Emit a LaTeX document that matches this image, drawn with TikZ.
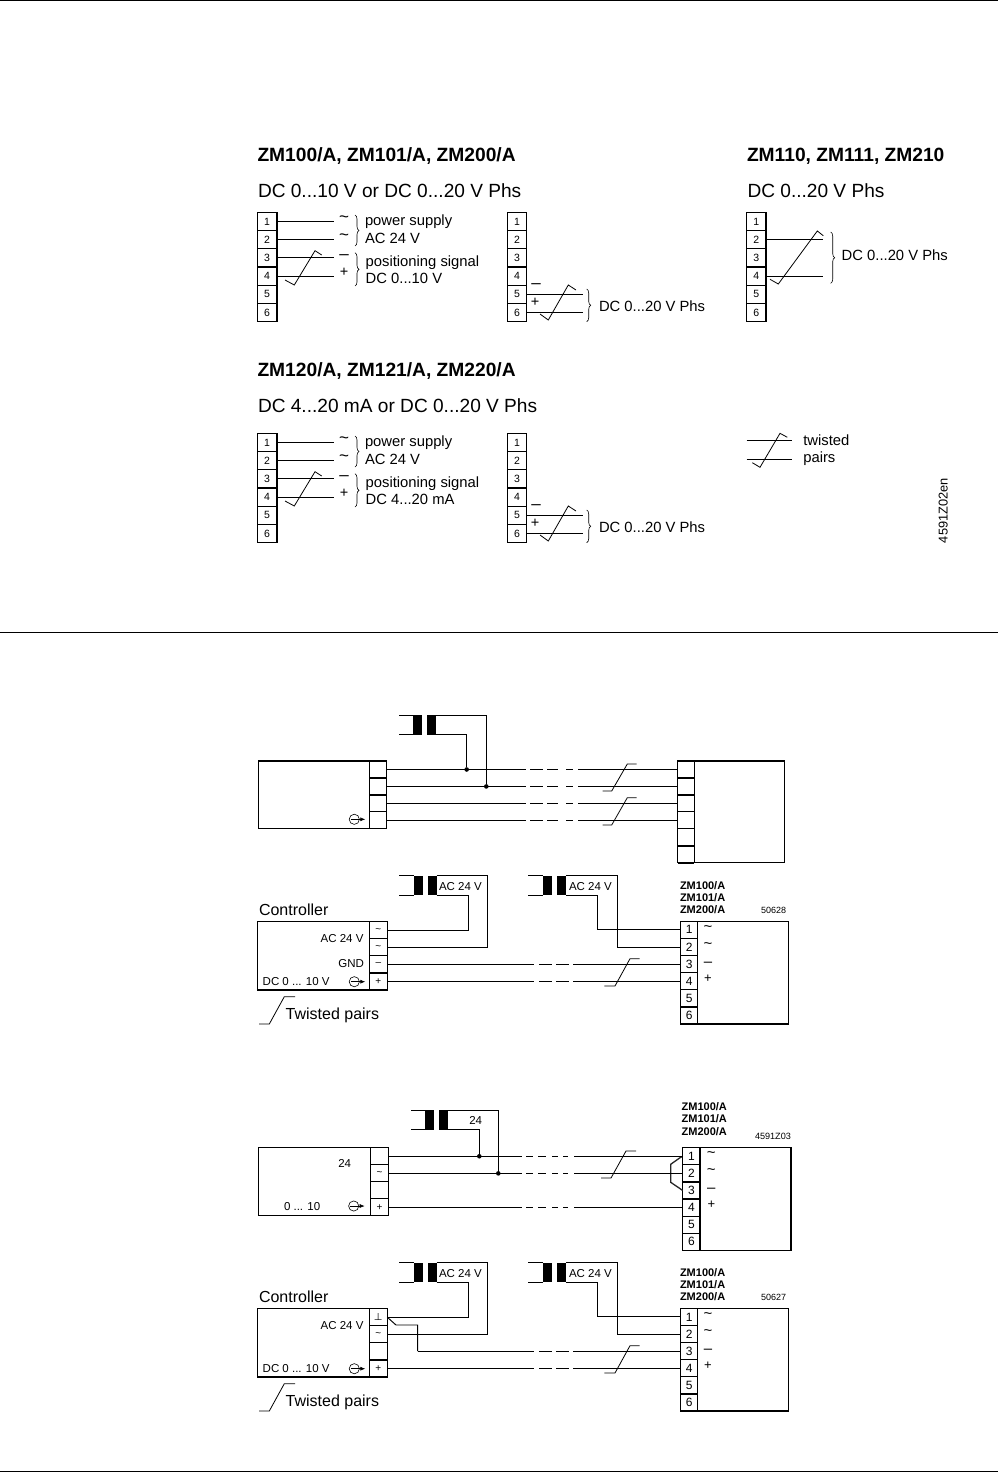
\documentclass[tikz,border=0pt]{standalone}
\usepackage{fontspec}
\setmainfont{Liberation Sans}
\newfontfamily\djv{DejaVu Sans}
\usetikzlibrary{arrows.meta,decorations.pathreplacing,calc}
\newcommand\tld{\textasciitilde}
\newcommand\ctld{\raisebox{-1.2pt}{\textasciitilde}}
\newcommand\mns{–}
\tikzset{
  wire/.style={line width=0.95pt,black},
  twl/.style={line width=0.8pt,black},
  rulel/.style={line width=1.3pt,black},
  cellb/.style={draw=black,line width=1.2pt,rectangle,inner sep=0pt,outer sep=0pt,fill=white},
  boxb/.style={draw=black,line width=1.1pt,rectangle,inner sep=0pt,outer sep=0pt,anchor=north west},
  thk/.style={line width=1.7pt,black},
  barb/.style={fill=black,draw=none,rectangle,inner sep=0pt,outer sep=0pt,minimum width=9pt,minimum height=19.3pt,anchor=north west},
  dotn/.style={fill=black,circle,inner sep=0pt,minimum size=4.6pt},
  brc/.style={line width=0.6pt,black,decorate,decoration={brace,amplitude=4pt}},
  txt/.style={inner sep=0pt,outer sep=0pt,text=black},
  sigl/.style={line width=0.6pt,black},
}
% name, x, ytop, w, h, fontsize, list
\newcommand\cellcol[7]{%
  \foreach \i/\lab in {#7}{%
    \node[cellb,minimum width=#4,minimum height=#5,font=\fontsize{#6}{#6}\selectfont] (#1\i) at ({#2+#4/2},{#3+(\i-0.5)*#5}) {\lab};
  }}
% name, x, y, size, anchor, text
\newcommand\tx[6]{\node[txt,anchor=#5,font=\fontsize{#4}{#4}\selectfont] (#1) at (#2,#3) {#6};}
\newcommand\bx[6]{\node[txt,anchor=#5,font=\bfseries\fontsize{#4}{#4}\selectfont] (#1) at (#2,#3) {#6};}
% symbols placed by the centre of their glyph: name, x, y centre, size
\newcommand\stld[4]{\tx{#1}{#2}{#3+0.30*#4}{#4}{base}{\tld}}
\newcommand\smns[4]{\tx{#1}{#2}{#3+0.27*#4}{#4}{base}{\mns}}
\newcommand\spls[4]{\tx{#1}{#2}{#3+0.33*#4}{#4}{base}{+}}
\newcommand\sigsym[2]{\draw[sigl] (#1,#2) circle (5.1);\draw[sigl,-{Latex[length=5pt,width=4pt]}] (#1-3.5,#2) -- (#1+11,#2);}
\newcommand\twist[4]{\draw[twl] (#1) -- (#2) -- (#3) -- (#4);}
% start, end, first stop, dash pairs, last start
\newcommand\brokenwire[5]{%
  \draw[wire] (#1 |- #2) -- (#3,0 |- #2);
  \foreach \p/\q in {#4}{\draw[wire] (\p,0 |- #2) -- (\q,0 |- #2);}
  \draw[wire] (#5,0 |- #2) -- (#2);}
% name, x of first bar, ytop, stub length
\newcommand\trafo[4]{%
  \node[barb] (#1a) at (#2,#3) {};
  \node[barb] (#1b) at (#2+14,#3) {};
  \coordinate (#1sa) at ($(#1a.north west)+(-#4,0)$);
  \coordinate (#1sb) at ($(#1a.south west)+(-#4,0)$);
  \draw[wire] (#1sa) -- (#1a.north west);
  \draw[wire] (#1sb) -- (#1a.south west);}
% top section block: prefix, yoffset, signal text
\newcommand\powerblock[3]{%
  \cellcol{#1}{257.3}{212.3+#2}{19.7}{18.2}{10.5}{1/1,2/2,3/3,4/4,5/5,6/6}
  \foreach \n in {1,2,3,4}{\coordinate (#1e\n) at (334.3,0 |- #1\n.east); \draw[wire] (#1\n.east) -- (#1e\n);}
  \twist{285,280+#2}{294.3,285+#2}{315,250.7+#2}{321.7,255+#2}
  \stld{#1sa}{344}{217+#2}{17}
  \stld{#1sb}{344}{235+#2}{17}
  \smns{#1sc}{344}{255+#2}{17}
  \spls{#1sd}{344}{272+#2}{14.5}
  \draw[brc] (355,215+#2) -- (355,246+#2);
  \draw[brc] (355,252.7+#2) -- (355,286+#2);
  \tx{#1ta}{365}{225.7+#2}{14.8}{base west}{power supply}
  \tx{#1tb}{365}{243+#2}{14.8}{base west}{AC 24 V}
  \tx{#1tc}{365.7}{266+#2}{14.8}{base west}{positioning signal}
  \tx{#1td}{365.7}{283+#2}{14.8}{base west}{#3}
  % second block
  \cellcol{#1x}{507.3}{212.3+#2}{19.3}{18.2}{10.5}{1/1,2/2,3/3,4/4,5/5,6/6}
  \foreach \n in {5,6}{\coordinate (#1xe\n) at (582.7,0 |- #1x\n.east); \draw[wire] (#1x\n.east) -- (#1xe\n);}
  \twist{540,314+#2}{548.3,320+#2}{568.3,285+#2}{576,290+#2}
  \smns{#1se}{536}{284.3+#2}{17}
  \spls{#1sf}{535}{301.7+#2}{14.5}
  \draw[brc] (586.7,289+#2) -- (586.7,321.7+#2);
  \tx{#1te}{599}{311+#2}{14.8}{base west}{DC 0...20 V Phs}
}
% ZM title triple
\newcommand\zmt[5]{%
  \bx{#1za}{#2}{#3}{11}{base west}{ZM100/A}
  \bx{#1zb}{#2}{#4}{11}{base west}{ZM101/A}
  \bx{#1zc}{#2}{#5}{11}{base west}{ZM200/A}}
% controller diagrams: prefix, y offset, left cell list, code number
\newcommand\ctrl[4]{%
  \trafo{#1T}{413.7}{875.7+#2}{14.7}
  \trafo{#1U}{543.3}{875.7+#2}{15}
  \tx{#1aa}{439}{890+#2}{11.5}{base west}{AC 24 V}
  \tx{#1ab}{569}{890+#2}{11.5}{base west}{AC 24 V}
  \tx{#1ct}{259}{915+#2}{16}{base west}{Controller}
  \node[boxb,minimum width=112,minimum height=68.3] (#1box) at (257.3,921.7+#2) {};
  \cellcol{#1l}{369.3}{921.7+#2}{18}{17.07}{10}{#3}
  \tx{#1ac}{363.5}{942.3+#2}{11.5}{base east}{AC 24 V}
  \tx{#1dc}{262.7}{985+#2}{11.5}{base west}{DC 0 ... 10 V}
  \sigsym{354.3}{981.7+#2}
  \node[boxb,minimum width=107.6,minimum height=102.7] (#1rb) at (680.7,921.3+#2) {};
  \cellcol{#1r}{680.7}{921.3+#2}{17}{17.12}{12}{1/1,2/2,3/3,4/4,5/5,6/6}
  \stld{#1sa}{708}{927.3+#2}{15}
  \stld{#1sb}{708}{944.3+#2}{15}
  \smns{#1sc}{708}{962.7+#2}{15}
  \spls{#1sd}{708}{978+#2}{13}
  \zmt{#1}{680}{889.3+#2}{901.3+#2}{913.3+#2}
  \tx{#1no}{761}{913.3+#2}{9}{base west}{#4}
  % supply wiring
  \draw[wire] (#1Tb.south east) -| (468.3,0 |- #1l1.east) -- (#1l1.east);
  \draw[wire] (#1Tb.north east) -| (487.3,0 |- #1l2.east) -- (#1l2.east);
  \draw[wire] (#1Ub.south east) -| (597.7,0 |- #1r1.west) -- (#1r1.west);
  \draw[wire] (#1Ub.north east) -| (617.3,0 |- #1r2.west) -- (#1r2.west);
  \brokenwire{#1l4.east}{#1r4.west}{534}{539/551.7,556/569}{573.3}
  \twist{604.3,986+#2}{615,986+#2}{630,958.7+#2}{639.7,958.7+#2}
  \twist{259,1024+#2}{269.3,1024+#2}{284.3,996.7+#2}{295,996.7+#2}
  \tx{#1tw}{285.7}{1019.3+#2}{16}{base west}{Twisted pairs}
}
\begin{document}
\begin{tikzpicture}[x=1pt,y=-1pt]
\useasboundingbox (0,0) rectangle (1006,1472);
\coordinate (r1a) at (0,0.6); \coordinate (r1b) at (998.3,0.6);
\coordinate (r2a) at (0,632.3); \coordinate (r2b) at (998.3,632.3);
\coordinate (r3a) at (0,1471.3); \coordinate (r3b) at (998.3,1471.3);
\draw[rulel] (r1a) -- (r1b);
\draw[rulel] (r2a) -- (r2b);
\draw[rulel] (r3a) -- (r3b);
% ---------- titles
\bx{h1}{257.5}{161.7}{19.2}{base west}{ZM100/A, ZM101/A, ZM200/A}
\tx{s1}{258}{197.3}{19.1}{base west}{DC 0...10 V or DC 0...20 V Phs}
\bx{h2}{747}{161.7}{19.2}{base west}{ZM110, ZM111, ZM210}
\tx{s2}{747.5}{197.3}{19.1}{base west}{DC 0...20 V Phs}
\bx{h3}{257.5}{376.7}{19.2}{base west}{ZM120/A, ZM121/A, ZM220/A}
\tx{s3}{258}{412.3}{19.1}{base west}{DC 4...20 mA or DC 0...20 V Phs}
\powerblock{a}{0}{DC 0...10 V}
\powerblock{d}{221}{DC 4...20 mA}
% ---------- block C
\cellcol{c}{746.7}{212.3}{19.3}{18.2}{10.5}{1/1,2/2,3/3,4/4,5/5,6/6}
\coordinate (ce2) at (823.3,0 |- c2.east);
\coordinate (ce4) at (823.3,0 |- c4.east);
\draw[wire] (c2.east) -- (ce2);
\draw[wire] (c4.east) -- (ce4);
\twist{770,279.3}{778.3,284}{817.3,231}{823.3,235.7}
\draw[brc] (830.7,232) -- (830.7,283.3);
\tx{ct}{841.7}{260.7}{14.8}{base west}{DC 0...20 V Phs}
% ---------- legend
\coordinate (la) at (746.7,440.7); \coordinate (lb) at (791.7,440.7);
\coordinate (lc) at (746.7,459.3); \coordinate (ld) at (791.7,459.3);
\draw[wire] (la) -- (lb);
\draw[wire] (lc) -- (ld);
\twist{752.3,462.7}{760,467.3}{780,433.3}{787.3,437.3}
\tx{lt1}{803.3}{445}{14.8}{base west}{twisted}
\tx{lt2}{803.3}{462}{14.8}{base west}{pairs}
\node[txt,rotate=90,anchor=base west,font=\fontsize{12.8}{12.8}\selectfont] (code) at (947.7,543) {4591Z02en};
% ---------- diagram 1
\trafo{T}{413}{715.3}{14}
\node[boxb,minimum width=111,minimum height=67.3] (b1) at (258.3,761) {};
\cellcol{p}{369.3}{761}{17}{16.85}{10}{1/{},2/{},3/{},4/{}}
\node[boxb,minimum width=106.6,minimum height=101.7] (b2) at (677.7,761) {};
\cellcol{q}{677.7}{761}{16.6}{16.95}{10}{1/{},2/{},3/{},4/{},5/{},6/{}}
\draw[thk] (b1.north west) -- (p1.north east);
\draw[thk] (p1.south west) -- (p1.south east);
\draw[thk] (p2.south west) -- (p2.south east);
\draw[thk] (q1.north west) -- (b2.north east);
\draw[thk] (q1.south west) -- (q1.south east);
\draw[thk] (q2.south west) -- (q2.south east);
\draw[thk] (q5.south west) -- (q5.south east);
\draw[thk] (q6.south west) -- (q6.south east);
\sigsym{354.3}{819.3}
\foreach \n in {1,2,3,4}{\brokenwire{p\n.east}{q\n.west}{526}{530/543,547/558,566/573}{578}}
\node[dotn] (d1) at (466.7,0 |- q1.west) {};
\node[dotn] (d2) at (486.3,0 |- q2.west) {};
\draw[wire] (Tb.south east) -| (d1);
\draw[wire] (Tb.north east) -| (d2);
\twist{602.7,791}{611.7,791}{627.3,764}{636.7,764}
\twist{602.7,825}{611.7,825}{627.3,797.7}{636.7,797.7}
% ---------- diagram 2
\ctrl{e}{0}{1/\ctld,2/\ctld,3/\mns,4/+}{50628}
\tx{egnd}{364}{967.3}{11.5}{base east}{GND}
\brokenwire{el3.east}{er3.west}{534}{539/551.7,556/569}{573.3}
% ---------- diagram 3
\trafo{V}{425}{1110.3}{14}
\tx{v24}{475.7}{1124.3}{11.5}{base}{24}
\node[boxb,minimum width=112.4,minimum height=68] (b3) at (258.3,1147.7) {};
\cellcol{g}{370.7}{1147.7}{17.6}{17}{10}{1/{},2/\ctld,3/{},4/+}
\tx{g24}{344.7}{1167.3}{11.5}{base}{24}
\tx{g010}{284}{1210.3}{11.5}{base west}{0 ... 10}
\sigsym{353.7}{1206}
\node[boxb,minimum width=108.3,minimum height=102.6] (b4) at (682.7,1147.7) {};
\cellcol{h}{682.7}{1147.7}{17.3}{17.1}{12}{1/1,2/2,3/3,4/4,5/5,6/6}
\draw[line width=1.3pt,black!85] (h1.west) -- (680,1157.7) -- (670.7,1164.3) -- (670.7,1182.3) -- (h3.west);
\stld{hsa}{711.3}{1153.3}{15}
\stld{hsb}{711.3}{1170}{15}
\smns{hsc}{711.3}{1188.3}{15}
\spls{hsd}{711.3}{1204}{13}
\zmt{h}{681.7}{1110}{1122.7}{1135}
\tx{hno}{755}{1139.3}{9.1}{base west}{4591Z03}
\foreach \n/\m in {1/1,2/2,4/4}{\brokenwire{g\n.east}{h\m.west}{522}{526/533,538/546,552/558,563/568}{574}}
\node[dotn] (d3) at (479.3,0 |- h1.west) {};
\node[dotn] (d4) at (498.3,0 |- h2.west) {};
\draw[wire] (Vb.south east) -| (d3);
\draw[wire] (Vb.north east) -| (d4);
\twist{601,1178}{611,1178}{626,1151}{636,1151}
% ---------- diagram 4
\ctrl{k}{387}{1/{\djv\char"22A5},2/\ctld,3/{},4/+}{50627}
\coordinate (kb1) at (396,1325);
\coordinate (kb2) at (417.7,1325);
\coordinate (kb3) at (417.7,0 |- kr3.west);
\draw[wire] (kl1.east) -- (kb1) -- (kb2) -- (kb3);
\brokenwire{kb3}{kr3.west}{534}{539/551.7,556/569}{573.3}
\end{tikzpicture}
\end{document}
